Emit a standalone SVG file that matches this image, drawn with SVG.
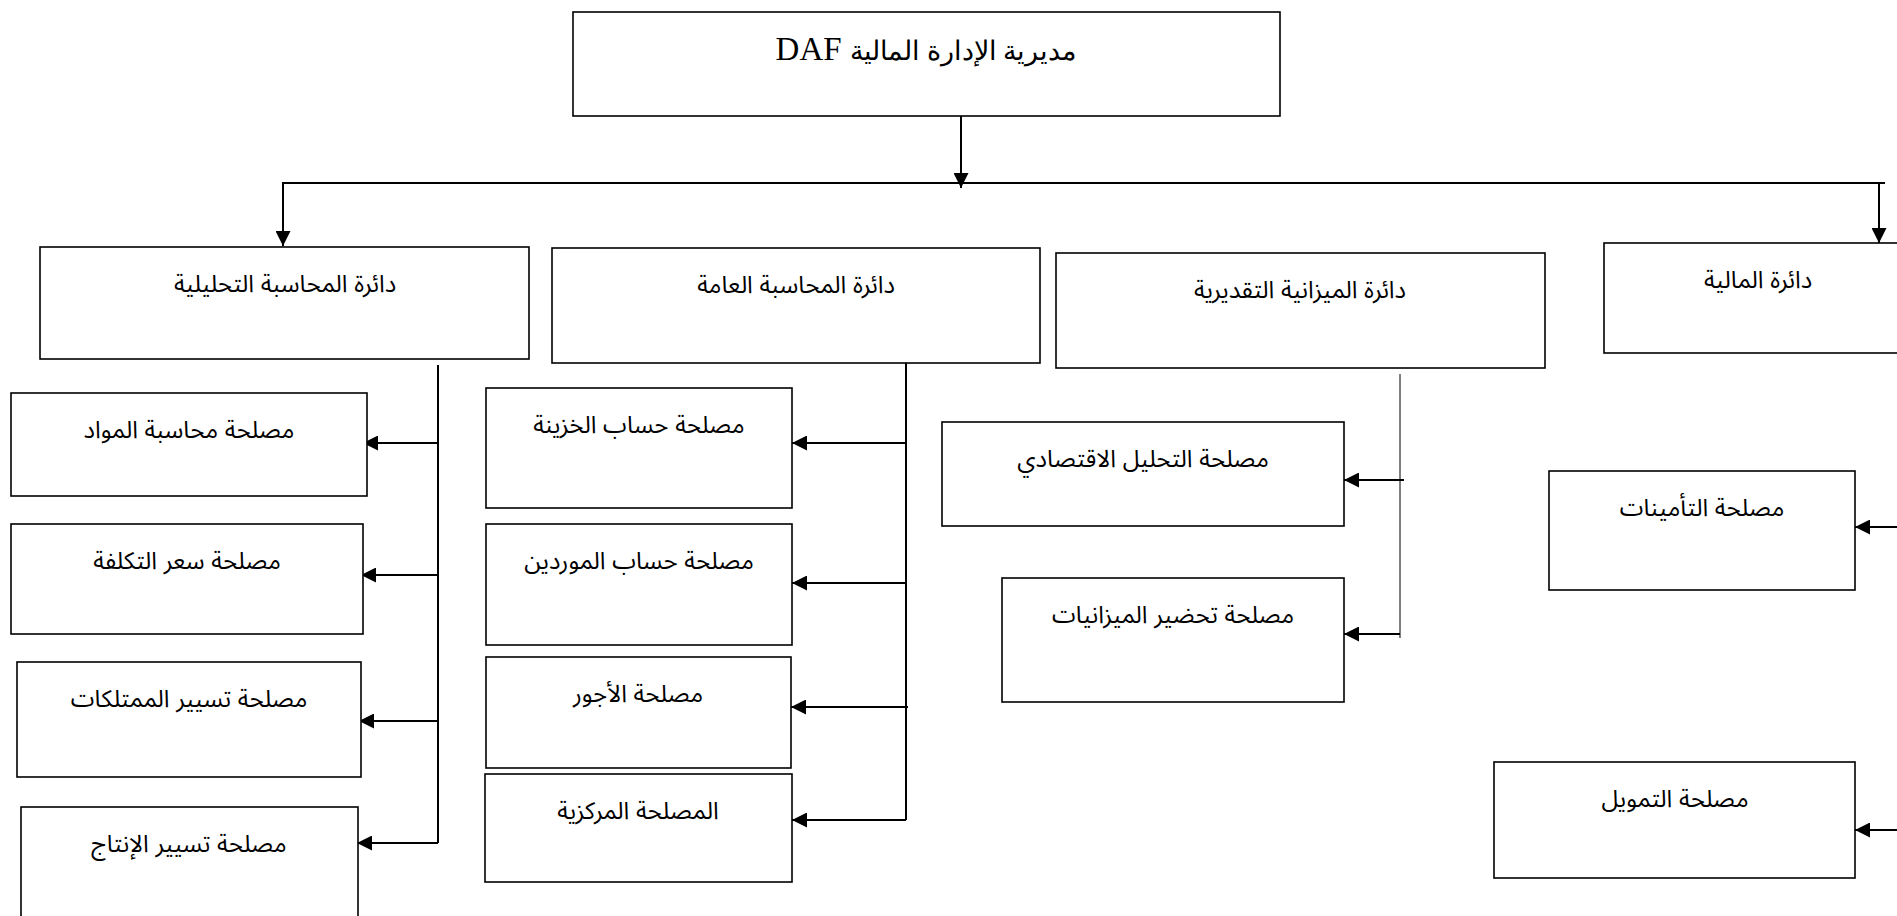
<svg xmlns="http://www.w3.org/2000/svg" width="1897" height="916" viewBox="0 0 1897 916">
<style>
.box{fill:#fff;stroke:#000;stroke-width:1.6}
.lbl{font-family:"Liberation Sans","Noto Sans Arabic","DejaVu Sans",sans-serif;font-size:24px;fill:#000;text-anchor:middle;direction:rtl}
.ttl{font-family:"Liberation Serif","Noto Serif Arabic","DejaVu Serif",serif;font-size:33px;fill:#000;text-anchor:middle;direction:rtl}
.ttl .ar{font-size:27px}
.ln{fill:none;stroke:#000;stroke-width:2}
.thin{fill:none;stroke:#000;stroke-width:1}
.arr{fill:none;stroke:#000;stroke-width:2;marker-end:url(#ah)}
</style>
<defs>
<marker id="ah" markerUnits="userSpaceOnUse" markerWidth="15" markerHeight="15" refX="15" refY="7.5" orient="auto">
<path d="M0,0 L15,7.5 L0,15 z" fill="#000"/>
</marker>
</defs>
<rect width="1897" height="916" fill="#fff"/>

<g id="connectors">
<path class="arr" d="M961,116 V188"/>
<path class="ln" d="M283,183 H1885"/>
<path class="arr" d="M283,182 V246"/>
<path class="arr" d="M1879,182 V243"/>

<path class="ln" d="M438,365 V843"/>
<path class="arr" d="M438,443 H363"/>
<path class="arr" d="M438,575 H361"/>
<path class="arr" d="M438,721 H359"/>
<path class="arr" d="M438,843 H357"/>

<path class="ln" d="M906,363 V820"/>
<path class="arr" d="M906,443 H792"/>
<path class="arr" d="M906,583 H792"/>
<path class="arr" d="M908,707 H791"/>
<path class="arr" d="M906,820 H792"/>

<path class="thin" d="M1400,374 V638"/>
<path class="arr" d="M1404,480 H1344"/>
<path class="arr" d="M1400,634 H1344"/>

<path class="arr" d="M1900,527 H1855"/>
<path class="arr" d="M1900,830 H1855"/>
</g>

<g id="n-daf"><rect class="box" x="573" y="12" width="707" height="104"/><text class="ttl" x="926" y="60"><tspan class="ar">مديرية الإدارة المالية</tspan> DAF</text></g>

<g id="n-analytic"><rect class="box" x="40" y="247" width="489" height="112"/><text class="lbl" x="285" y="292">دائرة المحاسبة التحليلية</text></g>
<g id="n-general"><rect class="box" x="552" y="248" width="488" height="115"/><text class="lbl" x="796" y="293">دائرة المحاسبة العامة</text></g>
<g id="n-budget"><rect class="box" x="1056" y="253" width="489" height="115"/><text class="lbl" x="1300" y="298">دائرة الميزانية التقديرية</text></g>
<g id="n-finance"><rect class="box" x="1604" y="243" width="300" height="110"/><text class="lbl" x="1758" y="288">دائرة المالية</text></g>

<g id="n-a1"><rect class="box" x="11" y="393" width="356" height="103"/><text class="lbl" x="189" y="438">مصلحة محاسبة المواد</text></g>
<g id="n-a2"><rect class="box" x="11" y="524" width="352" height="110"/><text class="lbl" x="187" y="569">مصلحة سعر  التكلفة</text></g>
<g id="n-a3"><rect class="box" x="17" y="662" width="344" height="115"/><text class="lbl" x="189" y="707">مصلحة تسيير  الممتلكات</text></g>
<g id="n-a4"><rect class="box" x="21" y="807" width="337" height="120"/><text class="lbl" x="189" y="852">مصلحة تسيير  الإنتاج</text></g>

<g id="n-b1"><rect class="box" x="486" y="388" width="306" height="120"/><text class="lbl" x="639" y="433">مصلحة حساب الخزينة</text></g>
<g id="n-b2"><rect class="box" x="486" y="524" width="306" height="121"/><text class="lbl" x="639" y="569">مصلحة حساب الموردين</text></g>
<g id="n-b3"><rect class="box" x="486" y="657" width="305" height="111"/><text class="lbl" x="638" y="702">مصلحة الأجور</text></g>
<g id="n-b4"><rect class="box" x="485" y="774" width="307" height="108"/><text class="lbl" x="638" y="819">المصلحة المركزية</text></g>

<g id="n-c1"><rect class="box" x="942" y="422" width="402" height="104"/><text class="lbl" x="1143" y="467">مصلحة التحليل الاقتصادي</text></g>
<g id="n-c2"><rect class="box" x="1002" y="578" width="342" height="124"/><text class="lbl" x="1173" y="623">مصلحة تحضير  الميزانيات</text></g>

<g id="n-d1"><rect class="box" x="1549" y="471" width="306" height="119"/><text class="lbl" x="1702" y="516">مصلحة التأمينات</text></g>
<g id="n-d2"><rect class="box" x="1494" y="762" width="361" height="116"/><text class="lbl" x="1675" y="807">مصلحة التمويل</text></g>
</svg>
